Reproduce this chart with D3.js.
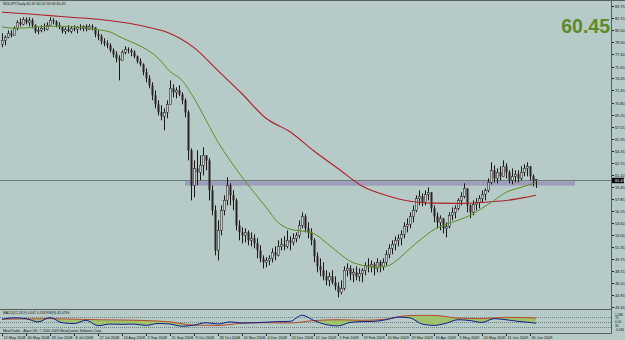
<!DOCTYPE html>
<html>
<head>
<meta charset="utf-8">
<title>NZDJPY Daily</title>
<script src="https://d3js.org/d3.v7.min.js"></script>
<style>
  body { margin: 0; background: #b6cbc7; }
  svg text { font-family: "Liberation Sans", Arial, sans-serif; }
</style>
</head>
<body>
<svg class="chart" width="625" height="340"></svg>
<script>
// ---- data (2-day bars) ----
const firstOpen = 78.64;
const closes = [
  79.18, 79.58, 80.12, 79.85, 80.79, 81.60, 81.33, 82.00, 81.60, 81.87,
  81.20, 80.39, 80.52, 80.79, 80.66, 81.20, 81.87, 81.73, 81.20, 80.93,
  80.39, 80.66, 80.39, 80.79, 80.66, 80.93, 80.79, 81.06, 80.66, 81.06,
  80.93, 79.99, 79.72, 79.05, 78.78, 78.51, 77.84, 77.30, 76.76, 76.49,
  77.57, 77.97, 77.84, 77.57, 77.03, 76.36, 75.95, 74.88, 74.07, 73.13,
  71.79, 70.58, 69.50, 68.96, 69.50, 70.58, 72.73, 72.19, 72.46, 71.92,
  71.12, 69.50, 64.40, 59.69, 61.97, 61.44, 62.38, 63.72, 63.05, 59.02,
  56.33, 50.95, 53.64, 56.33, 57.67, 59.69, 58.35, 57.67, 54.31, 53.37,
  52.97, 53.37, 52.30, 52.57, 51.89, 50.95, 49.88, 49.34, 49.61, 49.88,
  50.68, 50.28, 51.49, 51.76, 51.49, 52.30, 52.03, 52.57, 52.97, 54.31,
  55.52, 53.91, 53.37, 52.30, 50.15, 48.80, 48.27, 47.46, 46.92, 47.46,
  46.65, 46.12, 45.31, 45.85, 48.27, 48.53, 47.73, 48.00, 47.46, 47.86,
  48.27, 48.94, 48.80, 49.07, 48.53, 49.34, 48.80, 49.34, 50.42, 51.22,
  51.76, 52.30, 52.57, 53.10, 54.18, 54.45, 55.52, 56.33, 57.94, 58.21,
  57.41, 58.48, 58.75, 56.60, 55.52, 54.72, 55.25, 53.91, 54.18, 55.66,
  56.06, 56.60, 57.67, 58.21, 59.29, 57.00, 56.06, 57.14, 57.41, 57.94,
  58.48, 59.02, 60.09, 61.71, 60.63, 61.44, 60.90, 62.24, 61.44, 60.36,
  60.90, 61.17, 60.63, 61.44, 61.97, 62.24, 60.90, 60.32, 60.45
];
const highs = [
  80.12, 79.85, 80.52, 80.52, 81.06, 81.87, 82.14, 82.27, 82.27, 82.27,
  82.14, 81.33, 80.93, 81.20, 81.46, 81.60, 82.27, 82.14, 81.87, 81.60,
  81.06, 80.93, 81.20, 81.06, 81.20, 81.06, 81.33, 81.20, 81.33, 81.33,
  81.33, 80.93, 80.52, 79.99, 79.45, 79.18, 78.78, 78.10, 77.70, 77.16,
  77.84, 78.37, 78.24, 78.10, 77.84, 77.16, 76.76, 76.09, 75.41, 74.47,
  73.53, 72.46, 71.12, 70.44, 70.04, 71.12, 73.80, 73.27, 72.86, 73.13,
  72.19, 71.38, 69.77, 64.66, 63.05, 64.40, 63.72, 64.80, 63.72, 63.32,
  59.69, 57.00, 54.99, 57.00, 58.35, 60.77, 59.96, 59.02, 57.94, 54.99,
  54.04, 53.91, 53.64, 53.37, 53.10, 52.57, 51.63, 50.28, 50.01, 50.28,
  51.22, 51.49, 52.30, 52.57, 52.84, 53.64, 52.84, 53.24, 53.37, 54.99,
  56.06, 55.79, 54.72, 53.91, 52.57, 50.68, 49.88, 49.34, 48.27, 48.00,
  48.27, 47.46, 46.65, 46.92, 48.80, 49.21, 48.94, 48.53, 48.80, 48.53,
  48.53, 49.34, 49.88, 49.61, 49.34, 49.88, 49.61, 49.88, 50.95, 51.76,
  52.30, 52.84, 53.10, 53.64, 54.72, 55.25, 56.06, 57.00, 58.35, 59.02,
  58.62, 59.02, 59.42, 58.35, 57.00, 56.06, 55.66, 55.25, 54.72, 56.06,
  56.73, 57.00, 57.94, 58.75, 59.96, 59.29, 57.14, 57.67, 57.94, 58.35,
  59.02, 59.29, 60.63, 62.78, 62.38, 61.97, 62.24, 63.05, 62.65, 61.71,
  61.97, 61.71, 61.71, 62.24, 62.51, 62.78, 62.24, 61.17, 60.52
];
const lows = [
  78.24, 78.51, 79.45, 79.58, 79.99, 80.52, 81.06, 81.20, 81.33, 81.06,
  80.79, 80.12, 79.99, 80.26, 80.39, 80.52, 81.20, 81.33, 80.93, 80.66,
  80.12, 79.99, 80.26, 80.12, 80.39, 80.12, 80.52, 80.39, 80.39, 80.66,
  80.52, 79.58, 79.18, 78.64, 78.37, 78.10, 77.57, 76.89, 76.22, 73.80,
  76.49, 77.30, 77.43, 77.03, 76.76, 76.09, 75.68, 74.47, 73.53, 72.73,
  71.12, 70.04, 69.10, 68.43, 67.08, 68.70, 71.38, 71.52, 71.38, 71.65,
  70.58, 68.83, 63.05, 57.67, 58.08, 59.69, 60.36, 61.03, 61.71, 57.67,
  55.66, 50.28, 49.61, 52.97, 55.66, 57.00, 57.00, 56.33, 53.64, 52.30,
  51.89, 52.03, 51.63, 51.49, 51.22, 49.88, 49.34, 48.53, 48.67, 48.94,
  49.34, 49.61, 50.15, 50.95, 50.95, 51.22, 50.95, 51.63, 52.03, 52.57,
  53.91, 53.37, 52.57, 51.63, 49.34, 48.00, 47.46, 46.92, 46.25, 46.12,
  46.38, 45.58, 44.64, 45.04, 45.58, 47.46, 46.92, 46.65, 46.92, 46.79,
  46.65, 47.59, 48.00, 48.00, 47.59, 48.00, 48.00, 48.27, 48.94, 49.88,
  50.42, 50.95, 51.49, 51.63, 52.57, 53.37, 53.91, 54.72, 56.06, 57.00,
  56.87, 57.00, 57.67, 56.06, 54.72, 53.91, 53.64, 53.24, 52.70, 53.91,
  54.99, 55.25, 56.33, 57.00, 57.94, 56.06, 55.25, 55.66, 56.33, 56.60,
  57.41, 57.67, 58.75, 59.82, 60.09, 59.96, 60.36, 60.90, 60.63, 59.96,
  59.82, 60.09, 60.09, 60.36, 60.90, 60.90, 60.36, 59.56, 59.34
];

// moving averages, read every 4 bars (green) and every 8 bars (red), last bar appended
const maGreen = [
  81.0, 80.8, 80.85, 81.0, 81.06, 81.06, 81.0, 80.85, 80.6, 80.3,
  79.5, 78.8, 78.0, 76.8, 75.0, 73.8, 71.4, 68.45, 65.5, 63.05,
  60.8, 58.75, 56.75, 54.7, 53.8, 53.55, 53.2, 52.0, 50.7, 49.5,
  48.95, 48.7, 48.8, 49.75, 51.2, 52.55, 53.75, 54.45, 55.0, 55.65,
  56.6, 57.65, 58.75, 59.3, 59.8, 60.05
];
const maRed = [
  82.95, 82.75, 82.5, 82.25, 82.0, 81.6, 81.0, 80.1, 78.2, 75.1,
  72.0, 68.7, 66.9, 64.3, 61.95, 59.6, 58.35, 57.55, 57.3, 57.27,
  57.4, 57.65, 58.2, 58.35
];

// lower window (oscillator), same sampling as the averages
const oscBlue = [
  60, 65, 62, 50, 66, 47, 44, 56, 36, 42,
  41, 42, 37, 44, 42, 34, 38, 47, 42, 50,
  46, 47, 49, 51, 52, 75, 55, 40, 35, 48,
  51, 52, 58, 68, 65, 42, 37, 45, 58, 55,
  48, 62, 58, 52, 48, 45
];
const oscBrown = [
  60, 61, 62, 60, 58, 57, 55, 50, 38, 37,
  45, 47, 46, 55, 58, 56, 60, 74, 74, 64,
  62, 67, 65, 64
];

const priceTicks = [83.75, 82.15, 80.50, 78.90, 77.30, 75.65, 74.05, 72.45, 70.80, 69.20,
  67.55, 65.95, 64.35, 62.70, 61.10, 59.45, 57.85, 56.25, 54.60, 53.00,
  51.35, 49.75, 48.15, 46.50, 44.90, 43.30];
const dateLabels = ["12 May 2008", "30 May 2008", "18 Jun 2008", "8 Jul 2008", "27 Jul 2008",
  "14 Aug 2008", "2 Sep 2008", "21 Sep 2008", "9 Oct 2008", "28 Oct 2008", "16 Nov 2008",
  "4 Dec 2008", "23 Dec 2008", "12 Jan 2009", "1 Feb 2009", "19 Feb 2009", "10 Mar 2009",
  "29 Mar 2009", "16 Apr 2009", "5 May 2009", "24 May 2009", "11 Jun 2009", "30 Jun 2009"];

const lastPrice = 60.45;
const zone = { from: 61, to: 191, hi: 60.25, lo: 59.65 };

// ---- setup ----
const svg = d3.select("svg.chart");
const bg = "#b6cbc7";

const x = d3.scaleLinear().domain([0, 203]).range([2, 611]);
const y = d3.scaleLinear().domain([43.30, 83.75]).range([307.3, 6.3]);
const oy = d3.scaleLinear().domain([30, 70]).range([327.3, 316.5]);

svg.append("rect").attr("width", 625).attr("height", 340).attr("fill", bg);

const defs = svg.append("defs");
defs.append("clipPath").attr("id", "mainClip")
  .append("rect").attr("x", 0).attr("y", 1).attr("width", 611).attr("height", 308);
defs.append("clipPath").attr("id", "oscClip")
  .append("rect").attr("x", 0).attr("y", 310).attr("width", 611).attr("height", 23);

const bars = closes.map((c, i) => ({
  i: i,
  o: i === 0 ? firstOpen : closes[i - 1],
  h: highs[i], l: lows[i], c: c
}));

const main = svg.append("g").attr("clip-path", "url(#mainClip)");

// support zone + bid line
main.append("rect")
  .attr("x", x(zone.from)).attr("width", x(zone.to) - x(zone.from))
  .attr("y", y(zone.hi)).attr("height", y(zone.lo) - y(zone.hi))
  .attr("fill", "#9d9dbb");
main.append("line")
  .attr("x1", 0).attr("x2", 611)
  .attr("y1", Math.round(y(lastPrice)) + 0.5).attr("y2", Math.round(y(lastPrice)) + 0.5)
  .attr("stroke", "#6b7b7a").attr("stroke-width", 1);

// candles
const cg = main.append("g");
cg.selectAll("line.wick").data(bars).enter().append("line")
  .attr("class", "wick")
  .attr("x1", d => Math.round(x(d.i)) + 0.5).attr("x2", d => Math.round(x(d.i)) + 0.5)
  .attr("y1", d => y(Math.max(d.h, d.o, d.c)))
  .attr("y2", d => y(Math.min(d.l, d.o, d.c)))
  .attr("stroke", "#1c1818").attr("stroke-width", 1);
cg.selectAll("rect.body").data(bars).enter().append("rect")
  .attr("class", "body")
  .attr("x", d => Math.round(x(d.i)) - 0.5)
  .attr("width", 2)
  .attr("y", d => y(Math.max(d.o, d.c)))
  .attr("height", d => Math.max(1, Math.abs(y(d.o) - y(d.c))))
  .attr("fill", d => d.c >= d.o ? "#c4cccb" : "#2e2222")
  .attr("stroke", d => d.c >= d.o ? "#1c1818" : "none")
  .attr("stroke-width", 0.5);

// moving averages
const greenIdx = d3.range(0, 177, 4).concat([178]);
const redIdx = d3.range(0, 177, 8).concat([178]);
const maLine = d3.line().x(d => x(d.i)).y(d => y(d.v)).curve(d3.curveMonotoneX);
main.append("path")
  .datum(maRed.map((v, k) => ({ i: redIdx[k], v: v })))
  .attr("d", maLine).attr("fill", "none").attr("stroke", "#b01e2a").attr("stroke-width", 1.1);
main.append("path")
  .datum(maGreen.map((v, k) => ({ i: greenIdx[k], v: v })))
  .attr("d", maLine).attr("fill", "none").attr("stroke", "#5e8f24").attr("stroke-width", 1);

// title
svg.append("text").attr("x", 3).attr("y", 5).attr("font-size", 3.6).attr("fill", "#111")
  .text("NZDJPY,Daily  60.32 60.52 59.34 60.45");

// big last price
svg.append("text").attr("x", 610).attr("y", 33).attr("text-anchor", "end")
  .attr("font-size", 19.5).attr("font-weight", "bold").attr("fill", "#5b8a2a")
  .text(lastPrice.toFixed(2));

// ---- oscillator window ----
const blueData = oscBlue.map((v, k) => ({ i: greenIdx[k], v: v }));
const brownData = oscBrown.map((v, k) => ({ i: redIdx[k], v: v }));
const osc = svg.append("g").attr("clip-path", "url(#oscClip)");

[70, 50, 30].forEach(lv => {
  osc.append("line").attr("x1", 0).attr("x2", 611)
    .attr("y1", Math.round(oy(lv)) + 0.5).attr("y2", Math.round(oy(lv)) + 0.5)
    .attr("stroke", "#5f6f6d").attr("stroke-width", 0.8).attr("stroke-dasharray", "1,1");
});

defs.append("clipPath").attr("id", "aboveBlue")
  .append("path").datum(blueData)
  .attr("d", d3.area().x(d => x(d.i)).y0(300).y1(d => oy(d.v)).curve(d3.curveMonotoneX));
osc.append("path").datum(brownData)
  .attr("clip-path", "url(#aboveBlue)")
  .attr("d", d3.area().x(d => x(d.i)).y0(340).y1(d => oy(d.v)).curve(d3.curveMonotoneX))
  .attr("fill", "#9fc36c");
osc.append("path").datum(brownData)
  .attr("d", d3.line().x(d => x(d.i)).y(d => oy(d.v)).curve(d3.curveMonotoneX))
  .attr("fill", "none").attr("stroke", "#b84a2e").attr("stroke-width", 1);
osc.append("path").datum(blueData)
  .attr("d", d3.line().x(d => x(d.i)).y(d => oy(d.v)).curve(d3.curveMonotoneX))
  .attr("fill", "none").attr("stroke", "#13208a").attr("stroke-width", 1);

svg.append("text").attr("x", 3).attr("y", 314).attr("font-size", 3.4).attr("fill", "#111")
  .text("MACD(12,26,9) 0.047 0.318  RSI(9) 42.0790");
svg.append("text").attr("x", 3).attr("y", 332).attr("font-size", 3.4).attr("fill", "#111")
  .text("MetaTrader - Alpari UK, \u00a9 2001-2009 MetaQuotes Software Corp.");

// ---- frame lines ----
const frame = "#56605f";
svg.append("line").attr("x1", 0).attr("x2", 625).attr("y1", 0.5).attr("y2", 0.5).attr("stroke", frame);
svg.append("line").attr("x1", 0).attr("x2", 611).attr("y1", 309.5).attr("y2", 309.5).attr("stroke", frame);
svg.append("line").attr("x1", 0).attr("x2", 611).attr("y1", 333.5).attr("y2", 333.5).attr("stroke", frame);
svg.append("line").attr("x1", 611.5).attr("x2", 611.5).attr("y1", 0).attr("y2", 334).attr("stroke", frame);

// price axis
const pa = svg.append("g");
priceTicks.forEach(p => {
  const yy = Math.round(y(p)) + 0.5;
  pa.append("line").attr("x1", 612).attr("x2", 614).attr("y1", yy).attr("y2", yy).attr("stroke", "#222");
  pa.append("text").attr("x", 615).attr("y", yy + 1.3).attr("font-size", 3.8).attr("fill", "#111")
    .text(p.toFixed(2));
});
const by = Math.round(y(lastPrice)) + 0.5;
pa.append("rect").attr("x", 612).attr("y", by - 2.7).attr("width", 12).attr("height", 5.4).attr("fill", "#000");
pa.append("text").attr("x", 615).attr("y", by + 1.3).attr("font-size", 3.8).attr("fill", "#fff")
  .text(lastPrice.toFixed(2));

// oscillator axis labels
const oscLabels = [["1.436", 78], ["70", 64], ["0.00", 50], ["30", 36], ["-4.436", 20]];
oscLabels.forEach(d => {
  svg.append("text").attr("x", 615).attr("y", oy(d[1]) + 1.2).attr("font-size", 3.2).attr("fill", "#111").text(d[0]);
});

// date axis
dateLabels.forEach((t, k) => {
  const xx = Math.round(x(k * 8)) + 0.5;
  svg.append("line").attr("x1", xx).attr("x2", xx).attr("y1", 334).attr("y2", 336).attr("stroke", "#222");
  svg.append("text").attr("x", xx + 1).attr("y", 338.5).attr("font-size", 3.8).attr("fill", "#111").text(t);
});
</script>
</body>
</html>
